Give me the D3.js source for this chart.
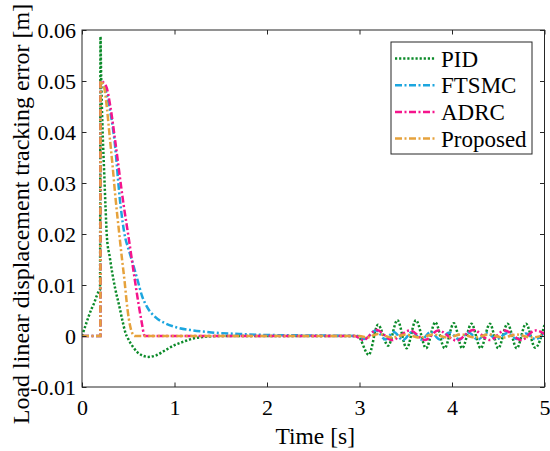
<!DOCTYPE html>
<html>
<head>
<meta charset="utf-8">
<script src="https://cdn.jsdelivr.net/npm/d3@7"></script>
<style>
  body { margin: 0; background: #fff; }
  text { font-family: "Liberation Serif", "Times New Roman", serif; fill: #000; }
</style>
</head>
<body>
<div id="chart"></div>
<script>
// values, [time s, error m]
var pidPts = [[0,0],[0.05,0.0027],[0.1,0.0052],[0.13,0.0064],[0.16,0.0079],[0.18,0.0087],[0.195,0.009],
  [0.2,0.0587],[0.205,0.053],[0.215,0.045],[0.225,0.039],[0.24,0.032],[0.255,0.025],[0.27,0.0192],
  [0.3,0.0155],[0.325,0.0126],[0.36,0.0092],[0.4,0.0061],[0.44,0.0028],[0.47,0.0006],[0.5,-0.0006],
  [0.55,-0.0021],[0.6,-0.0032],[0.65,-0.0038],[0.72,-0.0041],[0.8,-0.0038],[0.9,-0.0028],[1.0,-0.0018],
  [1.1,-0.0011],[1.2,-0.0005],[1.3,-0.0002],[1.5,0],[2.98,0],
  [3.1,-0.0037],[3.2,0.0022],[3.31,-0.0019],[3.41,0.0031],[3.51,-0.0024],[3.61,0.0031],[3.72,-0.0024],
  [3.82,0.0027],[3.92,-0.0024],[4.02,0.0025],[4.11,-0.0024],[4.21,0.0024],[4.31,-0.0024],[4.41,0.0024],
  [4.5,-0.0024],[4.6,0.0024],[4.7,-0.0024],[4.8,0.0024],[4.9,-0.0023],[5.0,0.0022]]

var ftsmcPts = [[0,0],[0.199,0],[0.2,0.05],[0.25,0.0485],[0.3,0.0445],[0.35,0.0385],[0.414,0.026],
  [0.468,0.0192],[0.5,0.0172],[0.55,0.0142],[0.6,0.011],[0.65,0.0078],[0.7,0.0058],[0.8,0.0036],
  [0.9,0.0025],[1.0,0.0018],[1.2,0.0011],[1.4,0.0007],[1.7,0.0004],[2.0,0.0002],[2.5,0.0001],[2.95,0],
  [3.05,-0.0006],[3.18,0.0011],[3.28,-0.0007],[3.37,0.0008],[3.47,-0.0008],[3.57,0.0008],[3.67,-0.0007],
  [3.77,0.0008],[3.87,-0.0007],[3.97,0.0007],[4.08,-0.0007],[4.18,0.0007],[4.28,-0.0007],[4.38,0.0006],
  [4.48,-0.0006],[4.6,0.0006],[4.7,-0.0006],[4.8,0.0005],[4.9,-0.0006],[5.0,0.0005]]

var adrcPts = [[0,0],[0.199,0],[0.2,0.05],[0.26,0.049],[0.31,0.0446],[0.36,0.0381],[0.45,0.0257],
  [0.505,0.0192],[0.558,0.0126],[0.613,0.0061],[0.65,0.0022],[0.667,0.0005],[0.68,0],[2.95,0],
  [3.04,-0.0008],[3.185,0.0012],[3.35,-0.0008],[3.546,0.0011],[3.71,-0.0008],[3.85,0.0011],[4.05,-0.0009],
  [4.23,0.0012],[4.41,-0.0008],[4.57,0.0011],[4.75,-0.0008],[4.9,0.0011],[5.0,0.0004]]

var proposedPts = [[0,0],[0.199,0],[0.2,0.05],[0.24,0.0487],[0.27,0.0446],[0.3,0.039],[0.33,0.0335],
  [0.36,0.0275],[0.4,0.0205],[0.43,0.0155],[0.46,0.0108],[0.49,0.0055],[0.52,0.002],[0.545,0.0005],
  [0.57,0],[3.0,0],[3.08,-0.0003],[3.2,0.0004],[3.35,-0.0003],[3.5,0.0003],[3.65,-0.0003],[3.8,0.0003],
  [3.95,-0.0003],[4.1,0.0003],[4.25,-0.0003],[4.4,0.0003],[4.55,-0.0003],[4.7,0.0003],[4.85,-0.0003],[5.0,0.0002]]

var seriesNames = ["PID", "FTSMC", "ADRC", "Proposed"]
var seriesColors = ["#0b8a29", "#1ca6df", "#f5148c", "#e6a23c"]
var xTicks = [0, 1, 2, 3, 4, 5]
var xTickLabels = ["0", "1", "2", "3", "4", "5"]
var yTicks = [-0.01, 0, 0.01, 0.02, 0.03, 0.04, 0.05, 0.06]
var yTickLabels = ["-0.01", "0", "0.01", "0.02", "0.03", "0.04", "0.05", "0.06"]

var width = 550, height = 451
var margin = {top: 30, right: 5.5, bottom: 64, left: 82}

var x = d3.scaleLinear().domain([0, 5]).range([margin.left, width - margin.right])
var y = d3.scaleLinear().domain([-0.01, 0.06]).range([height - margin.bottom, margin.top])

var svg = d3.select("#chart").append("svg")
  .attr("width", width)
  .attr("height", height)

svg.append("defs").append("clipPath").attr("id", "plotclip")
  .append("rect")
  .attr("x", x(0)).attr("y", y(0.06))
  .attr("width", x(5) - x(0)).attr("height", y(-0.01) - y(0.06))

// lines, proposed drawn last so it sits on top
var dashes = ["2.2,1.9", "7,2.5,2,2.5", "7,2.5,2,2.5", "7,2.5,2,2.5"]
var allPts = [pidPts, ftsmcPts, adrcPts, proposedPts]

var drawLine = d3.line()
  .x(function(d) { return x(d[0]) })
  .y(function(d) { return y(d[1]) })
  .curve(d3.curveMonotoneX)

var plot = svg.append("g").attr("clip-path", "url(#plotclip)")
allPts.forEach(function(pts, i) {
  plot.append("path")
    .datum(pts)
    .attr("fill", "none")
    .attr("stroke", seriesColors[i])
    .attr("stroke-width", 2.5)
    .attr("stroke-dasharray", dashes[i])
    .attr("d", drawLine)
})

// axes, ticks pointing inward on all four sides
var tickLen = 4.5
var axisColor = "#262626"

svg.append("g")
  .attr("transform", "translate(0," + y(-0.01) + ")")
  .call(d3.axisBottom(x).tickValues(xTicks).tickSizeInner(-tickLen).tickSizeOuter(0).tickPadding(12)
    .tickFormat(function(d, i) { return xTickLabels[i] }))
svg.append("g")
  .attr("transform", "translate(0," + y(0.06) + ")")
  .call(d3.axisTop(x).tickValues(xTicks).tickSizeInner(-tickLen).tickSizeOuter(0).tickFormat(""))

svg.append("g")
  .attr("transform", "translate(" + x(0) + ",0)")
  .call(d3.axisLeft(y).tickValues(yTicks).tickSizeInner(-tickLen).tickSizeOuter(0).tickPadding(6)
    .tickFormat(function(d, i) { return yTickLabels[i] }))
svg.append("g")
  .attr("transform", "translate(" + x(5) + ",0)")
  .call(d3.axisRight(y).tickValues(yTicks).tickSizeInner(-tickLen).tickSizeOuter(0).tickFormat(""))

svg.selectAll(".domain").remove()
svg.selectAll(".tick line").attr("stroke", axisColor)
svg.selectAll(".tick text")
  .style("font-family", "'Liberation Serif', serif")
  .style("font-size", "22px")
  .attr("fill", "#000")

svg.append("rect")
  .attr("x", x(0)).attr("y", y(0.06))
  .attr("width", x(5) - x(0)).attr("height", y(-0.01) - y(0.06))
  .attr("fill", "none")
  .attr("stroke", axisColor)
  .attr("stroke-width", 1)

svg.append("text")
  .attr("x", (x(0) + x(5)) / 2 + 2)
  .attr("y", 444)
  .attr("text-anchor", "middle")
  .style("font-size", "23.5px")
  .text("Time [s]")

svg.append("text")
  .attr("transform", "translate(29," + 214 + ") rotate(-90)")
  .attr("text-anchor", "middle")
  .style("font-size", "24px")
  .text("Load linear displacement tracking error [m]")

// legend box
var legX = 391, legY = 42, legW = 141, legH = 112
var legend = svg.append("g")
legend.append("rect")
  .attr("x", legX).attr("y", legY)
  .attr("width", legW).attr("height", legH)
  .attr("fill", "#fff")
  .attr("stroke", axisColor)
  .attr("stroke-width", 1)

seriesNames.forEach(function(name, i) {
  var ly = legY + 16.5 + i * 26.7
  legend.append("line")
    .attr("x1", legX + 4).attr("x2", legX + 45)
    .attr("y1", ly).attr("y2", ly)
    .attr("stroke", seriesColors[i])
    .attr("stroke-width", 2.5)
    .attr("stroke-dasharray", dashes[i])
  legend.append("text")
    .attr("x", legX + 50)
    .attr("y", ly)
    .attr("dy", "0.35em")
    .style("font-size", "23px")
    .text(name)
})
</script>
</body>
</html>
